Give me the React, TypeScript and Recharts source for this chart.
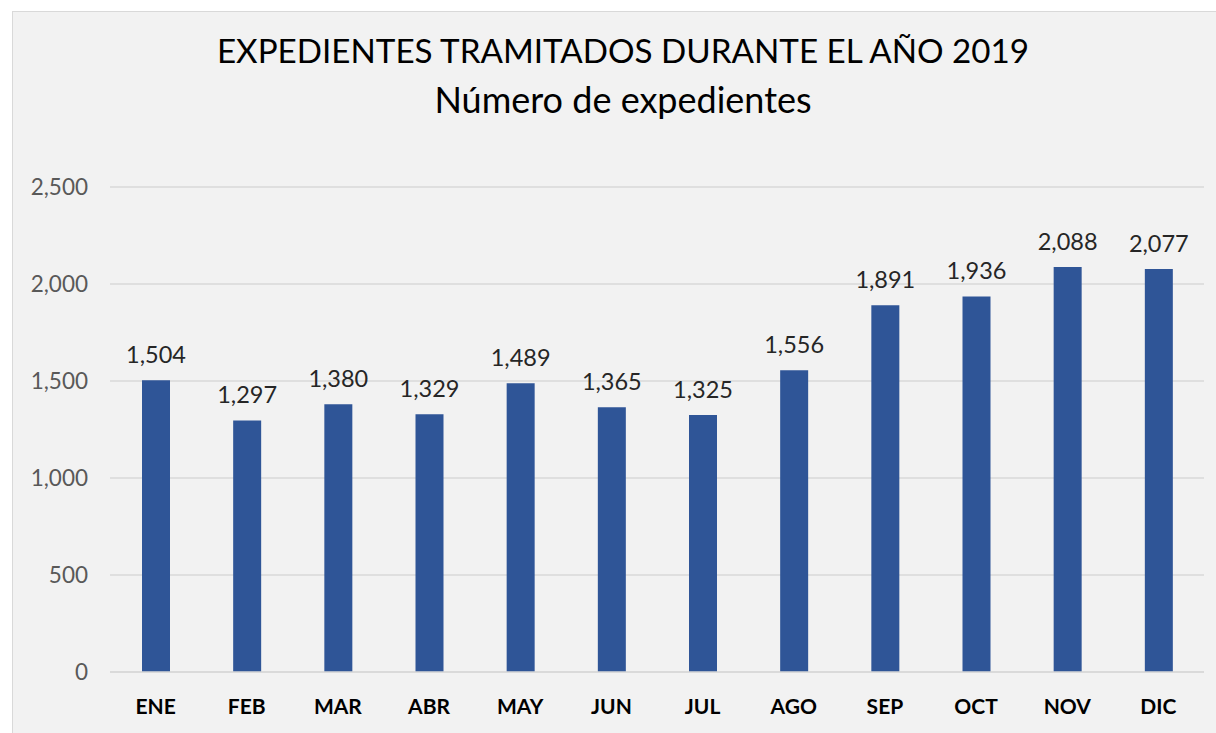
import { BarChart, Bar, XAxis, YAxis, CartesianGrid, LabelList } from 'recharts';

const months = ['ENE', 'FEB', 'MAR', 'ABR', 'MAY', 'JUN', 'JUL', 'AGO', 'SEP', 'OCT', 'NOV', 'DIC'];
const expedientes = [1504, 1297, 1380, 1329, 1489, 1365, 1325, 1556, 1891, 1936, 2088, 2077];
const yTicks = [0, 500, 1000, 1500, 2000, 2500];

const FONT = 'Lato, "Open Sans", sans-serif';

const fmt = (v: number) => v.toLocaleString('en-US');

const App = () => {
  const chartData = months.map((m, i) => ({ mes: m, valor: expedientes[i] }));

  return (
    <div style={{ position: 'absolute', left: 0, top: 0, width: 1216, height: 733, background: '#fff', overflow: 'hidden', fontFamily: FONT }}>
      <div
        style={{
          position: 'absolute',
          left: 12,
          top: 11,
          width: 1222,
          height: 730,
          background: '#f2f2f2',
          border: '1px solid #d9d9d9',
        }}
      />
      <div style={{ position: 'absolute', left: 12, width: 1222, top: 25, textAlign: 'center', fontSize: 33.2, color: '#000', lineHeight: '50px' }}>
        EXPEDIENTES TRAMITADOS DURANTE EL AÑO 2019
      </div>
      <div style={{ position: 'absolute', left: 12, width: 1222, top: 74, textAlign: 'center', fontSize: 36, color: '#000', lineHeight: '50px' }}>
        Número de expedientes
      </div>
      <div style={{ position: 'absolute', left: 0, top: 0 }}>
        <BarChart width={1216} height={733} data={chartData} margin={{ top: 187, right: 12, bottom: 31, left: 50 }}>
          <CartesianGrid vertical={false} stroke="#d9d9d9" strokeWidth={1.5} />
          <XAxis
            dataKey="mes"
            axisLine={{ stroke: '#d9d9d9', strokeWidth: 1.5 }}
            tickLine={false}
            tickMargin={21}
            tick={{ fill: '#000', fontSize: 21, fontWeight: 700, fontFamily: FONT }}
          />
          <YAxis
            width={60}
            domain={[0, 2500]}
            ticks={yTicks}
            axisLine={false}
            tickLine={false}
            tickMargin={16}
            tickFormatter={fmt}
            tick={{ fill: '#595959', fontSize: 22.5, fontFamily: FONT }}
          />
          <Bar dataKey="valor" fill="#2f5597" barSize={28} isAnimationActive={false}>
            <LabelList
              dataKey="valor"
              position="top"
              offset={17}
              formatter={(v: number) => fmt(v)}
              style={{ fill: '#262626', fontSize: 23.5, fontFamily: FONT }}
            />
          </Bar>
        </BarChart>
      </div>
    </div>
  );
};

export default App;
